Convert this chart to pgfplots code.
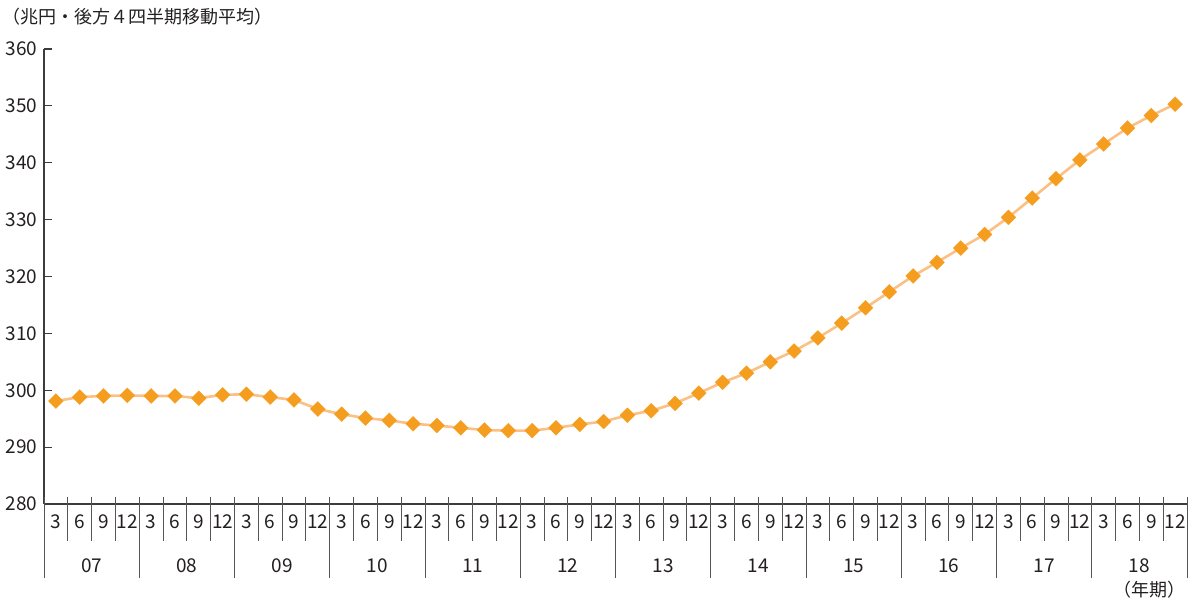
\documentclass[border=0pt]{standalone}
\usepackage{pgfplots}
\usepackage{pgfplotstable}
\pgfplotsset{compat=1.18}
\usepackage{fontspec}
\setmainfont{Noto Sans CJK JP}

\definecolor{markfill}{HTML}{F59D1E}
\definecolor{linecol}{HTML}{FBC083}
\definecolor{axiscol}{HTML}{3C3C3C}
\definecolor{sepcol}{HTML}{555555}
\definecolor{textcol}{HTML}{231F20}

% Quarterly series, 2007Q1 (index 0) to 2018Q4 (index 47)
\pgfplotstableread{
idx val
0  298.1
1  298.8
2  299.0
3  299.1
4  299.0
5  299.0
6  298.6
7  299.2
8  299.3
9  298.8
10 298.3
11 296.7
12 295.8
13 295.1
14 294.7
15 294.1
16 293.8
17 293.4
18 293.0
19 292.9
20 292.9
21 293.4
22 294.0
23 294.5
24 295.6
25 296.4
26 297.7
27 299.5
28 301.4
29 303.0
30 305.0
31 306.9
32 309.2
33 311.8
34 314.5
35 317.3
36 320.1
37 322.5
38 325.0
39 327.4
40 330.4
41 333.8
42 337.2
43 340.5
44 343.3
45 346.1
46 348.3
47 350.3
}\datatable

\newcommand{\lblfont}{\fontsize{19}{19}\selectfont}

\begin{document}
\begin{tikzpicture}
\begin{axis}[
  scale only axis,
  width=1143pt, height=455pt,
  xmin=-0.5, xmax=47.5,
  ymin=280, ymax=360,
  axis x line=bottom, axis y line=left,
  axis line style={axiscol, line width=1.2pt, -},
  xtick={0,...,47},
  xticklabels={3,6,9,12,3,6,9,12,3,6,9,12,3,6,9,12,3,6,9,12,3,6,9,12,
               3,6,9,12,3,6,9,12,3,6,9,12,3,6,9,12,3,6,9,12,3,6,9,12},
  major x tick style={draw=none},
  xticklabel style={anchor=center, yshift=-18pt, font=\lblfont, text=textcol},
  ytick={280,290,...,360},
  tick align=inside,
  major tick length=8pt,
  ytick style={axiscol, line width=1.2pt},
  yticklabel style={font=\lblfont, text=textcol, xshift=-3pt},
  /pgf/number format/assume math mode=true,
  clip=false,
]

% quarter separators
\pgfplotsinvokeforeach{-0.5,0.5,1.5,2.5,3.5,4.5,5.5,6.5,7.5,8.5,9.5,10.5,11.5,
  12.5,13.5,14.5,15.5,16.5,17.5,18.5,19.5,20.5,21.5,22.5,23.5,24.5,25.5,26.5,
  27.5,28.5,29.5,30.5,31.5,32.5,33.5,34.5,35.5,36.5,37.5,38.5,39.5,40.5,41.5,
  42.5,43.5,44.5,45.5,46.5,47.5}{
  \draw[sepcol, line width=0.9pt]
    ([yshift=7pt]axis cs:#1,280) -- ([yshift=-37pt]axis cs:#1,280);
}
% year separators
\pgfplotsinvokeforeach{-0.5,3.5,7.5,11.5,15.5,19.5,23.5,27.5,31.5,35.5,39.5,43.5,47.5}{
  \draw[sepcol, line width=0.9pt]
    ([yshift=7pt]axis cs:#1,280) -- ([yshift=-74pt]axis cs:#1,280);
}

% year labels
\node[font=\lblfont, text=textcol] at ([yshift=-62pt]axis cs:1.5,280) {07};
\node[font=\lblfont, text=textcol] at ([yshift=-62pt]axis cs:5.5,280) {08};
\node[font=\lblfont, text=textcol] at ([yshift=-62pt]axis cs:9.5,280) {09};
\node[font=\lblfont, text=textcol] at ([yshift=-62pt]axis cs:13.5,280) {10};
\node[font=\lblfont, text=textcol] at ([yshift=-62pt]axis cs:17.5,280) {11};
\node[font=\lblfont, text=textcol] at ([yshift=-62pt]axis cs:21.5,280) {12};
\node[font=\lblfont, text=textcol] at ([yshift=-62pt]axis cs:25.5,280) {13};
\node[font=\lblfont, text=textcol] at ([yshift=-62pt]axis cs:29.5,280) {14};
\node[font=\lblfont, text=textcol] at ([yshift=-62pt]axis cs:33.5,280) {15};
\node[font=\lblfont, text=textcol] at ([yshift=-62pt]axis cs:37.5,280) {16};
\node[font=\lblfont, text=textcol] at ([yshift=-62pt]axis cs:41.5,280) {17};
\node[font=\lblfont, text=textcol] at ([yshift=-62pt]axis cs:45.5,280) {18};

% unit labels
\node[anchor=west, inner sep=0pt, font=\fontsize{18}{18}\selectfont, text=textcol]
  at ([xshift=-42pt, yshift=32pt]rel axis cs:0,1) {（兆円・後方４四半期移動平均）};
\node[anchor=east, inner sep=0pt, font=\fontsize{18}{18}\selectfont, text=textcol]
  at ([xshift=-1pt, yshift=-86pt]rel axis cs:1,0) {（年期）};

% picture frame corners
\coordinate (bl) at ([xshift=-44pt, yshift=-100pt]rel axis cs:0,0);
\coordinate (tr) at ([xshift=5pt, yshift=49pt]rel axis cs:1,1);

\addplot[color=linecol, line width=2.6pt,
  mark=square*, mark size=5.3pt,
  mark options={rotate=45, fill=markfill, draw=markfill, line width=0.2pt, solid}]
  table[x=idx, y=val] {\datatable};
\end{axis}
\pgfresetboundingbox
\path[use as bounding box] (bl) rectangle (tr);
\end{tikzpicture}
\end{document}
